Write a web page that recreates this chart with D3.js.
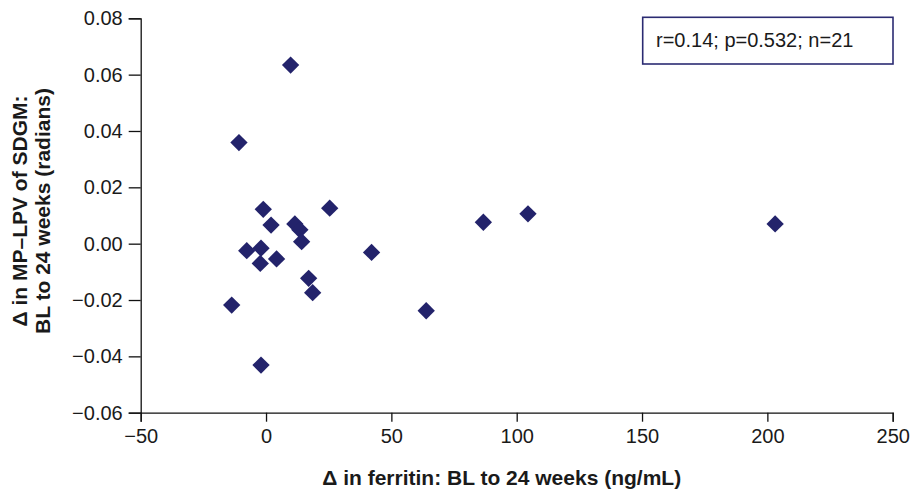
<!DOCTYPE html>
<html>
<head>
<meta charset="utf-8">
<script src="https://cdn.jsdelivr.net/npm/d3@7"></script>
<style>
  body { margin: 0; background: #fff; }
  svg { display: block; }
</style>
</head>
<body>
<div id="screen"></div>
<script>
// Δ ferritin (ng/mL) vs Δ MP-LPV of SDGM (radians), BL to 24 weeks
const ferritinChange = [9.8, -10.8, -1.1, 2.0, 25.4, 11.5, 13.5, 14.2, 42.1, -7.7, -2.0,
  -2.3, 4.2, 17.0, 18.6, -13.7, -2.0, 86.7, 104.5, 203.1, 63.9]
const lpvChange = [0.0634, 0.0359, 0.0122, 0.0066, 0.0126, 0.0070, 0.0049, 0.0007, -0.0031, -0.0025, -0.0016,
  -0.0070, -0.0054, -0.0123, -0.0174, -0.0218, -0.0431, 0.0076, 0.0106, 0.0070, -0.0238]
const xTicks = [-50, 0, 50, 100, 150, 200, 250]
const yTicks = [-0.06, -0.04, -0.02, 0.00, 0.02, 0.04, 0.06, 0.08]
const statsLabel = 'r=0.14; p=0.532; n=21'
const xTitle = 'Δ in ferritin: BL to 24 weeks (ng/mL)'
const yTitle = ['Δ in MP–LPV of SDGM:', 'BL to 24 weeks (radians)']

const width = 910
const height = 491
const margin = { top: 18.3, right: 17.3, bottom: 78.3, left: 140.7 }
const font = "'Liberation Sans', Arial, Helvetica, sans-serif"
const markColor = '#23236b'

const svg = d3.select('#screen').append('svg')
  .attr('width', width)
  .attr('height', height)

const x = d3.scaleLinear()
  .domain([-50, 250])
  .range([margin.left, width - margin.right])

const y = d3.scaleLinear()
  .domain([-0.06, 0.08])
  .range([height - margin.bottom, margin.top])

const minus = s => s.replace('-', '\u2212')

// axes
const xAxis = svg.append('g')
  .attr('transform', `translate(0,${height - margin.bottom})`)
  .call(d3.axisBottom(x).tickValues(xTicks).tickSize(9).tickSizeOuter(9).tickPadding(7)
    .tickFormat(d => minus(d3.format('d')(d))))

const yAxis = svg.append('g')
  .attr('transform', `translate(${margin.left},0)`)
  .call(d3.axisLeft(y).tickValues(yTicks).tickSize(12).tickSizeOuter(12).tickPadding(6)
    .tickFormat(d => minus(d3.format('.2f')(d))))

for (const g of [xAxis, yAxis]) {
  g.selectAll('path, line').attr('stroke', '#111').attr('stroke-width', 1.3)
  g.selectAll('text')
    .attr('font-family', font)
    .attr('font-size', '20px')
    .attr('fill', '#1a1a1a')
}

// points (rotated squares)
const diamond = d3.symbol().type(d3.symbolSquare).size(150)
svg.append('g')
  .selectAll('path')
  .data(ferritinChange.map((v, i) => [v, lpvChange[i]]))
  .join('path')
  .attr('d', diamond)
  .attr('transform', d => `translate(${x(d[0])},${y(d[1])}) rotate(45)`)
  .attr('fill', markColor)

// stats box
const box = svg.append('g')
box.append('rect')
  .attr('x', 642.7)
  .attr('y', 17.3)
  .attr('width', 250.3)
  .attr('height', 46.7)
  .attr('fill', '#fff')
  .attr('stroke', '#2b2b72')
  .attr('stroke-width', 1.6)
box.append('text')
  .attr('x', 656)
  .attr('y', 47)
  .attr('font-family', font)
  .attr('font-size', '20px')
  .attr('fill', '#1a1a1a')
  .text(statsLabel)

// axis titles
svg.append('text')
  .attr('x', (margin.left + width - margin.right) / 2 - 15)
  .attr('y', 485)
  .attr('text-anchor', 'middle')
  .attr('font-family', font)
  .attr('font-weight', 'bold')
  .attr('font-size', '21px')
  .attr('fill', '#1a1a1a')
  .text(xTitle)

svg.append('text')
  .attr('transform', 'translate(0,211) rotate(-90)')
  .attr('text-anchor', 'middle')
  .attr('font-family', font)
  .attr('font-weight', 'bold')
  .attr('font-size', '21px')
  .attr('fill', '#1a1a1a')
  .selectAll('tspan')
  .data(yTitle)
  .join('tspan')
  .attr('x', 0)
  .attr('y', (d, i) => 27 + i * 23)
  .text(d => d)
</script>
</body>
</html>
